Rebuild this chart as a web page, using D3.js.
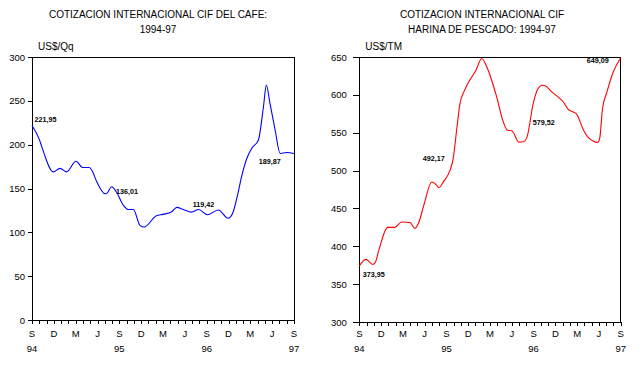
<!DOCTYPE html>
<html><head><meta charset="utf-8">
<script src="https://cdn.jsdelivr.net/npm/d3@7"></script>
<style>
body{margin:0;background:#fff;}
svg{display:block;font-family:"Liberation Sans",Arial,sans-serif;}
</style></head>
<body><svg id="c" width="641" height="365"></svg>
<script>
// ---- data ----
const monthLetters = ["S","D","M","J","S","D","M","J","S","D","M","J","S"]; // every 3 months from Sep 94
const yearLabels = ["94","95","96","97"]; // at months 0,12,24,36

const coffeeMonths = [0,1.0,1.33,2.93,3.85,4.76,6.04,6.96,7.87,8.33,8.88,10.03,10.2,10.95,11.6,12.55,13.23,13.92,14.84,15.4,17.1,18.0,19.2,19.9,20.8,21.9,22.9,24.1,25.6,26.96,27.65,28.3,28.8,29.5,30.2,31.1,31.8,32.2,32.7,33.4,34.1,35.0,36];
const coffeeValues = [221.95,206,198,169,173,169,181,174,174,169,158,144,144,152,146,131,126,126,108,106,119,120.5,123.5,128.5,126,123,126,120,125.5,116,123.5,144.5,163.5,184,196,205,243,268,247,217,190,191,189.87];
const coffeeTicks = [0,50,100,150,200,250,300];
const coffeeLabelMonths = [0,12,24,36];
const coffeeLabelValues = [221.95,136.01,119.42,189.87];
const coffeeLabels = ["221,95","136,01","119,42","189,87"];

const fishMonths = [0,0.92,1.84,2.16,2.75,3.9,4.9,5.84,6.98,7.67,8.13,8.82,9.0,9.97,10.4,11.0,11.57,12.5,12.94,13.4,13.86,14.4,15.25,16.07,16.86,17.55,18.24,18.93,19.75,20.4,21.0,22.0,22.6,23.1,23.95,24.6,25.2,25.6,26.5,27.4,28.1,28.8,29.5,29.9,30.9,31.55,32.2,32.8,33.1,33.5,34.1,34.96,36];
const fishValues = [373.95,382.7,376,378,397,425,425,432,431.5,423.6,430,452,458,485,483,477.7,485,500.5,516,553,588.5,604,620,632.5,648,637,619,597,566.5,553.3,552.5,537.5,538,544.5,588.5,608,612.7,612,604,597,590.6,580.6,577.4,575,553,543.6,539,537,542.3,582,603.6,629.8,649.09];
const fishTicks = [300,350,400,450,500,550,600,650];
const fishLabelMonths = [0,12,24,36];
const fishLabelValues = [373.95,492.17,579.52,649.09];
const fishLabels = ["373,95","492,17","579,52","649,09"];

const svg = d3.select("#c");

function drawChart(o){
  const g = svg.append("g");
  const x = d3.scaleLinear().domain([0,36]).range([o.left,o.right]);
  const y = d3.scaleLinear().domain(o.domain).range([o.bottom,o.top]);

  // titles
  g.selectAll("text.title").data(o.title).join("text")
    .attr("x",o.titleX).attr("y",(d,i)=>18+i*15)
    .attr("text-anchor","middle").attr("font-size","10px").text(d=>d);
  g.append("text").attr("x",o.left+6).attr("y",50).attr("font-size","10px").text(o.unit);

  // frame
  g.append("rect").attr("x",o.left).attr("y",o.top).attr("width",o.right-o.left).attr("height",o.bottom-o.top)
    .attr("fill","none").attr("stroke","#000").attr("stroke-width",1).attr("shape-rendering","crispEdges");

  // y axis
  const ya = d3.axisLeft(y).tickValues(o.ticks).tickSize(o.ytick).tickPadding(o.ypad).tickFormat(d3.format("d"));
  const yg = g.append("g").attr("transform",`translate(${o.left},0)`).call(ya);
  yg.select(".domain").remove();
  yg.selectAll("text").attr("font-size","9.5px").attr("fill","#000").attr("font-family","Liberation Sans, Arial, sans-serif");
  yg.selectAll("line").attr("shape-rendering","crispEdges");

  // x axis (monthly ticks)
  const xa = d3.axisBottom(x).tickValues(d3.range(0,37)).tickSize(4).tickFormat("");
  const xg = g.append("g").attr("transform",`translate(0,${o.bottom})`).call(xa);
  xg.select(".domain").remove();
  xg.selectAll("line").attr("shape-rendering","crispEdges");

  g.selectAll("text.ml").data(monthLetters).join("text")
    .attr("x",(d,i)=>x(i*3)).attr("y",337).attr("text-anchor","middle").attr("font-size","9.5px").text(d=>d);
  g.selectAll("text.yl").data(yearLabels).join("text")
    .attr("x",(d,i)=>x(i*12)).attr("y",352).attr("text-anchor","middle").attr("font-size","9.5px").text(d=>d);

  // line
  const pts = o.months.map((m,i)=>[m,o.values[i]]);
  g.append("path").datum(pts)
    .attr("d",d3.line().x(d=>x(d[0])).y(d=>y(d[1])).curve(d3.curveMonotoneX))
    .attr("fill","none").attr("stroke",o.color).attr("stroke-width",1.1);

  // value labels
  g.selectAll("text.vl").data(o.labels).join("text")
    .attr("x",(d,i)=>x(o.labelMonths[i])+o.ldx[i]).attr("y",(d,i)=>y(o.labelValues[i])+o.ldy[i])
    .attr("font-size","7.2px").attr("font-weight","bold").text(d=>d);
}

drawChart({
  left:32,right:294,top:57,bottom:320,domain:[0,300],ticks:coffeeTicks,ytick:4,ypad:3,
  title:["COTIZACION INTERNACIONAL CIF DEL CAFE:","1994-97"],titleX:158,unit:"US$/Qq",
  months:coffeeMonths,values:coffeeValues,color:"#0000ff",
  labels:coffeeLabels,labelMonths:coffeeLabelMonths,labelValues:coffeeLabelValues,
  ldx:[2.5,-3.4,-14,-35.3],ldy:[-3,-6.8,-8,10]
});

drawChart({
  left:359.3,right:620.7,top:57,bottom:322,domain:[300,650],ticks:fishTicks,ytick:6.5,ypad:6,
  title:["COTIZACION INTERNACIONAL CIF","HARINA DE PESCADO: 1994-97"],titleX:482,unit:"US$/TM",
  months:fishMonths,values:fishValues,color:"#ff0000",
  labels:fishLabels,labelMonths:fishLabelMonths,labelValues:fishLabelValues,
  ldx:[3.4,-23.7,-0.8,-34],ldy:[11,-15.6,15,5]
});
</script></body></html>
